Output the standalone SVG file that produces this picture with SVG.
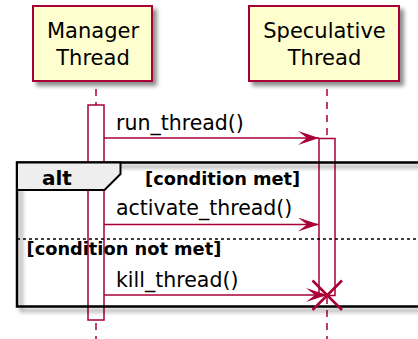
<svg xmlns="http://www.w3.org/2000/svg" width="418" height="339" viewBox="0 0 418 339">
<defs>
<filter id="sh" x="-10%" y="-10%" width="130%" height="130%">
<feGaussianBlur in="SourceAlpha" stdDeviation="2"/>
<feOffset dx="4" dy="4" result="b"/>
<feComponentTransfer><feFuncA type="linear" slope="0.45"/></feComponentTransfer>
<feMerge><feMergeNode/><feMergeNode in="SourceGraphic"/></feMerge>
</filter>
<marker id="ah" markerUnits="userSpaceOnUse" markerWidth="24" markerHeight="16" refX="21" refY="7" orient="auto">
<path d="M0,0 L21,7 L0,14 L9,7 Z" fill="#A80036"/>
</marker>
</defs>
<style>
.part{fill:#FEFECE;stroke:#A80036;stroke-width:2}
.ptxt{font-family:"DejaVu Sans",sans-serif;font-size:21px;fill:#000;text-anchor:middle}
.life{stroke:#A80036;stroke-width:1.5;stroke-dasharray:7 6;fill:none}
.act{fill:#FFFFFF;stroke:#A80036;stroke-width:1.5}
.msg{stroke:#A80036;stroke-width:1.5;fill:none}
.mtxt{font-family:"DejaVu Sans",sans-serif;font-size:20.5px;fill:#000}
.btxt{font-family:"DejaVu Sans",sans-serif;font-weight:bold;fill:#000}
</style>
<rect width="418" height="339" fill="#FFFFFF"/>
<g id="lifelines">
<line class="life" x1="96" y1="89" x2="96" y2="339"/>
<line class="life" x1="327" y1="89" x2="327" y2="339"/>
</g>
<g id="manager">
<rect class="part" x="33" y="6" width="119" height="75" filter="url(#sh)"/>
<text class="ptxt" x="93" y="37.5">Manager</text>
<text class="ptxt" x="93" y="64.5">Thread</text>
</g>
<g id="speculative">
<rect class="part" x="249" y="6" width="150" height="75" filter="url(#sh)"/>
<text class="ptxt" x="324.5" y="37.5">Speculative</text>
<text class="ptxt" x="324.5" y="64.5">Thread</text>
</g>
<g id="activations">
<rect class="act" x="88" y="105" width="16" height="215"/>
<rect class="act" x="319" y="138.5" width="16" height="157"/>
</g>
<g id="alt-frame">
<rect x="17" y="162.5" width="410" height="144" fill="none" stroke="#000" stroke-width="2.5" filter="url(#sh)"/>
<path d="M17,162.5 L120.5,162.5 L120.5,174 L104.5,190 L17,190 Z" fill="#EEEEEE" stroke="#000" stroke-width="2"/>
<text class="btxt" x="42" y="184.5" font-size="20">alt</text>
<text class="btxt" x="145" y="184.5" font-size="17.8">[condition met]</text>
<line x1="17" y1="239" x2="418" y2="239" stroke="#000" stroke-width="1.5" stroke-dasharray="3 3"/>
<text class="btxt" x="26.5" y="255" font-size="17.8">[condition not met]</text>
</g>
<g id="connectors">
<line class="msg" x1="104" y1="138" x2="319" y2="138" marker-end="url(#ah)"/>
<text class="mtxt" x="116" y="130">run_thread()</text>
<line class="msg" x1="104" y1="224.5" x2="319" y2="224.5" marker-end="url(#ah)"/>
<text class="mtxt" x="116" y="215">activate_thread()</text>
<line class="msg" x1="104" y1="295" x2="327" y2="295" marker-end="url(#ah)"/>
<text class="mtxt" x="116" y="286.5">kill_thread()</text>
<path d="M312.5,280.5 L342,310 M342,280.5 L312.5,310" stroke="#A80036" stroke-width="2.5" fill="none"/>
</g>
</svg>
